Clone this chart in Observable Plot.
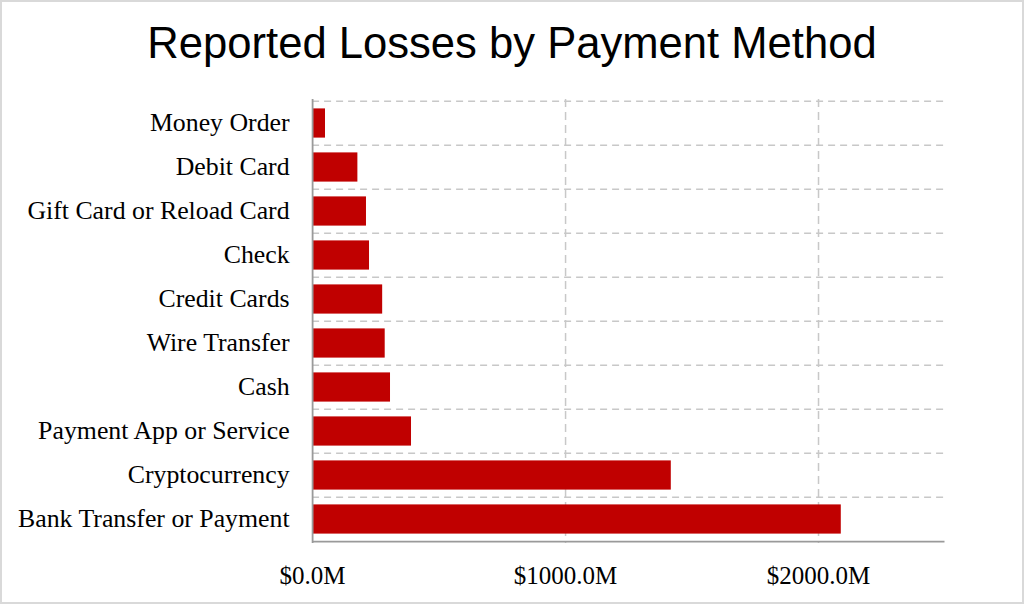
<!DOCTYPE html>
<html>
<head>
<meta charset="utf-8">
<script src="https://cdn.jsdelivr.net/npm/d3@7"></script>
<script src="https://cdn.jsdelivr.net/npm/@observablehq/plot@0.6"></script>
<style>
  html, body { margin: 0; padding: 0; background: #fff; }
  #wrap { position: relative; width: 1024px; height: 604px; overflow: hidden; background: #fff; }
  #title { height: 90px; box-sizing: border-box; padding-top: 22.4px; line-height: 43.6px;
    font-family: "Liberation Sans", Arial, sans-serif; font-size: 43.6px; text-align: center; color: #000; }
  #border { position: absolute; left: 0; top: 0; width: 1024px; height: 604px; box-sizing: border-box;
    border: 2px solid #d9d9d9; pointer-events: none; }
  svg { display: block; }
</style>
</head>
<body>
<div id="wrap">
  <div id="title">Reported Losses by Payment Method</div>
  <div id="chart"></div>
  <div id="border"></div>
</div>
<script>
const categories = [
  "Money Order",
  "Debit Card",
  "Gift Card or Reload Card",
  "Check",
  "Credit Cards",
  "Wire Transfer",
  "Cash",
  "Payment App or Service",
  "Cryptocurrency",
  "Bank Transfer or Payment"
];
const losses = [51, 179, 213, 225, 277, 287, 308, 391, 1418, 2090]; // $ millions
const xTicks = [0, 1000, 2000];

const data = categories.map((c, i) => ({method: c, value: losses[i]}));

const height = 514, marginTop = 9, marginBottom = 61;
const step = (height - marginTop - marginBottom) / categories.length;

const chart = Plot.plot({
  width: 1024,
  height,
  marginTop,
  marginBottom,
  marginLeft: 312.1,
  marginRight: 79.5,
  style: {fontFamily: "'Liberation Serif', 'Times New Roman', serif", fontSize: "25px", color: "#000", background: "#fff"},
  x: {domain: [0, 2500], ticks: xTicks, label: null},
  y: {domain: categories, padding: 0, label: null},
  marks: [
    Plot.gridY({stroke: "#c8c8c8", strokeOpacity: 1, strokeWidth: 1.5, strokeDasharray: "7,5", dy: -step / 2}),
    Plot.gridX({ticks: [1000, 2000], stroke: "#c8c8c8", strokeOpacity: 1, strokeWidth: 1.5, strokeDasharray: "8,5"}),
    Plot.barX(data, {y: "method", x: "value", fill: "#c00000", insetTop: 7.4, insetBottom: 7.4}),
    Plot.ruleX([0], {stroke: "#9a9a9a", strokeWidth: 1.8}),
    Plot.ruleY([categories[categories.length - 1]], {stroke: "#9a9a9a", strokeWidth: 1.8, dy: step / 2}),
    Plot.axisX({ticks: xTicks, tickSize: 0, tickPadding: 23, tickFormat: d => "$" + d.toFixed(1) + "M", label: null, fontSize: 25}),
    Plot.axisY({tickSize: 0, tickPadding: 23, label: null, fontSize: 25.8, dy: -1})
  ]
});
document.getElementById("chart").appendChild(chart);
</script>
</body>
</html>
